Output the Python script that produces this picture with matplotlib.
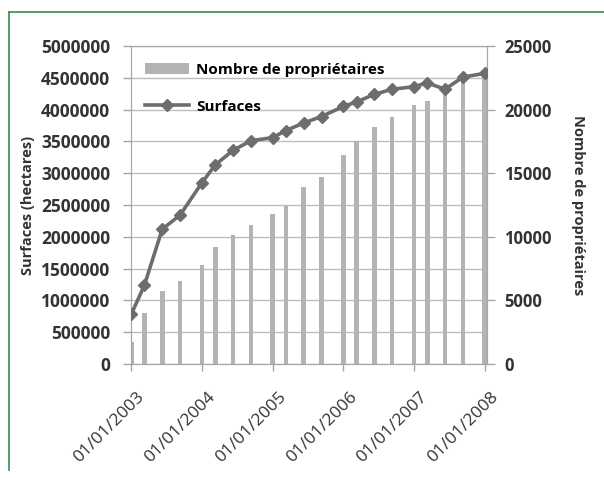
#!/usr/bin/env python3
import pandas as pd
import matplotlib
matplotlib.use("Agg")
import matplotlib.pyplot as plt
import matplotlib.dates as mdates
import matplotlib.transforms as mtransforms
from matplotlib.ticker import MultipleLocator, FuncFormatter
from matplotlib.lines import Line2D

plt.rcParams["font.family"] = ["Open Sans", "DejaVu Sans"]

# dates of the survey points
dates = [
    "2003-01-01", "2003-03-10", "2003-06-10", "2003-09-10",
    "2004-01-01", "2004-03-10", "2004-06-10", "2004-09-10",
    "2005-01-01", "2005-03-10", "2005-06-10", "2005-09-10",
    "2006-01-01", "2006-03-10", "2006-06-10", "2006-09-10",
    "2007-01-01", "2007-03-10", "2007-06-10", "2007-09-10",
    "2008-01-01",
]
# surfaces in hectares (left axis)
surfaces = [
    780000, 1240000, 2120000, 2340000,
    2850000, 3130000, 3360000, 3510000,
    3560000, 3670000, 3790000, 3890000,
    4050000, 4120000, 4240000, 4320000,
    4360000, 4420000, 4320000, 4510000,
    4570000,
]
# number of owners (right axis)
proprietaires = [
    1700, 4000, 5750, 6550,
    7800, 9200, 10150, 10950,
    11800, 12400, 13900, 14700,
    16400, 17500, 18650, 19400,
    20350, 20700, 21700, 22300,
    22750,
]

LINE = "#6d6d6d"
BAR = "#b3b3b3"
AXC = "#a6a6a6"
TXT = "#333333"

x = pd.to_datetime(dates)

fig = plt.figure(figsize=(6.04, 4.78), dpi=100)
ax = fig.add_axes([0.217, 0.2385, 0.589, 0.6653])
ax2 = ax.twinx()

# bars behind, line in front
ax.set_zorder(2)
ax.patch.set_visible(False)
ax2.set_zorder(1)

bars = ax2.bar(x, proprietaires, width=24, color=BAR, zorder=2)
line, = ax.plot(x, surfaces, color=LINE, lw=2.6, marker="D", ms=6, zorder=3)

ax.set_ylim(0, 5000000)
ax2.set_ylim(0, 25000)
ax.yaxis.set_major_locator(MultipleLocator(500000))
ax.yaxis.set_major_formatter(FuncFormatter(lambda v, p: f"{int(v)}"))
ax2.yaxis.set_major_locator(MultipleLocator(5000))
ax2.yaxis.set_minor_locator(MultipleLocator(2500))
ax2.set_axisbelow(True)
ax2.grid(True, which="both", axis="y", color="#bdbdbd", lw=1)
ax2.tick_params(axis="y", which="minor", length=0)

ax.set_xlim(pd.Timestamp("2002-12-31"), pd.Timestamp("2008-01-12"))
ax.xaxis.set_major_locator(mdates.YearLocator())
ax.xaxis.set_major_formatter(mdates.DateFormatter("%d/%m/%Y"))

for a in (ax, ax2):
    for s in a.spines.values():
        s.set_color(AXC)
    a.tick_params(colors=AXC, labelcolor=TXT, length=5, width=1)

ax.tick_params(axis="y", labelsize=12.5, length=5.5, pad=9.5)
for lab in ax.get_yticklabels():
    lab.set_fontweight("bold")
ax2.tick_params(axis="y", labelsize=12, length=5.5, pad=7)
for lab in ax2.get_yticklabels():
    lab.set_fontweight("bold")

# rotated date labels, pushed down and right of their ticks
ax.tick_params(axis="x", labelsize=12.5, pad=0)
shift = mtransforms.ScaledTranslation(0.11, -0.24, fig.dpi_scale_trans)
for lab in ax.get_xticklabels():
    lab.set_rotation(45)
    lab.set_ha("right")
    lab.set_va("center")
    lab.set_rotation_mode("anchor")
    lab.set_transform(lab.get_transform() + shift)

ax.set_ylabel("Surfaces (hectares)", fontsize=10.5, fontweight="bold",
              color=TXT, labelpad=4)
ax2.set_ylabel("Nombre de propriétaires", fontsize=10.5, fontweight="bold",
               color=TXT, rotation=-90, labelpad=24)

ax.legend([bars, line], ["Nombre de propriétaires", "Surfaces"],
          loc="upper left", bbox_to_anchor=(0.0, 0.99), frameon=False,
          handlelength=2.9, labelspacing=1.5, handletextpad=0.45,
          prop={"weight": "bold", "size": 11})

# green frame around the figure
fig.add_artist(Line2D([9 / 604, 1], [1 - 12 / 478, 1 - 12 / 478],
                      color="#3a8c4a", lw=1.2))
fig.add_artist(Line2D([9 / 604, 9 / 604], [1 - 12 / 478, 1 - 470 / 478],
                      color="#3a8c4a", lw=1.2))

fig.savefig("out.png", dpi=100)
